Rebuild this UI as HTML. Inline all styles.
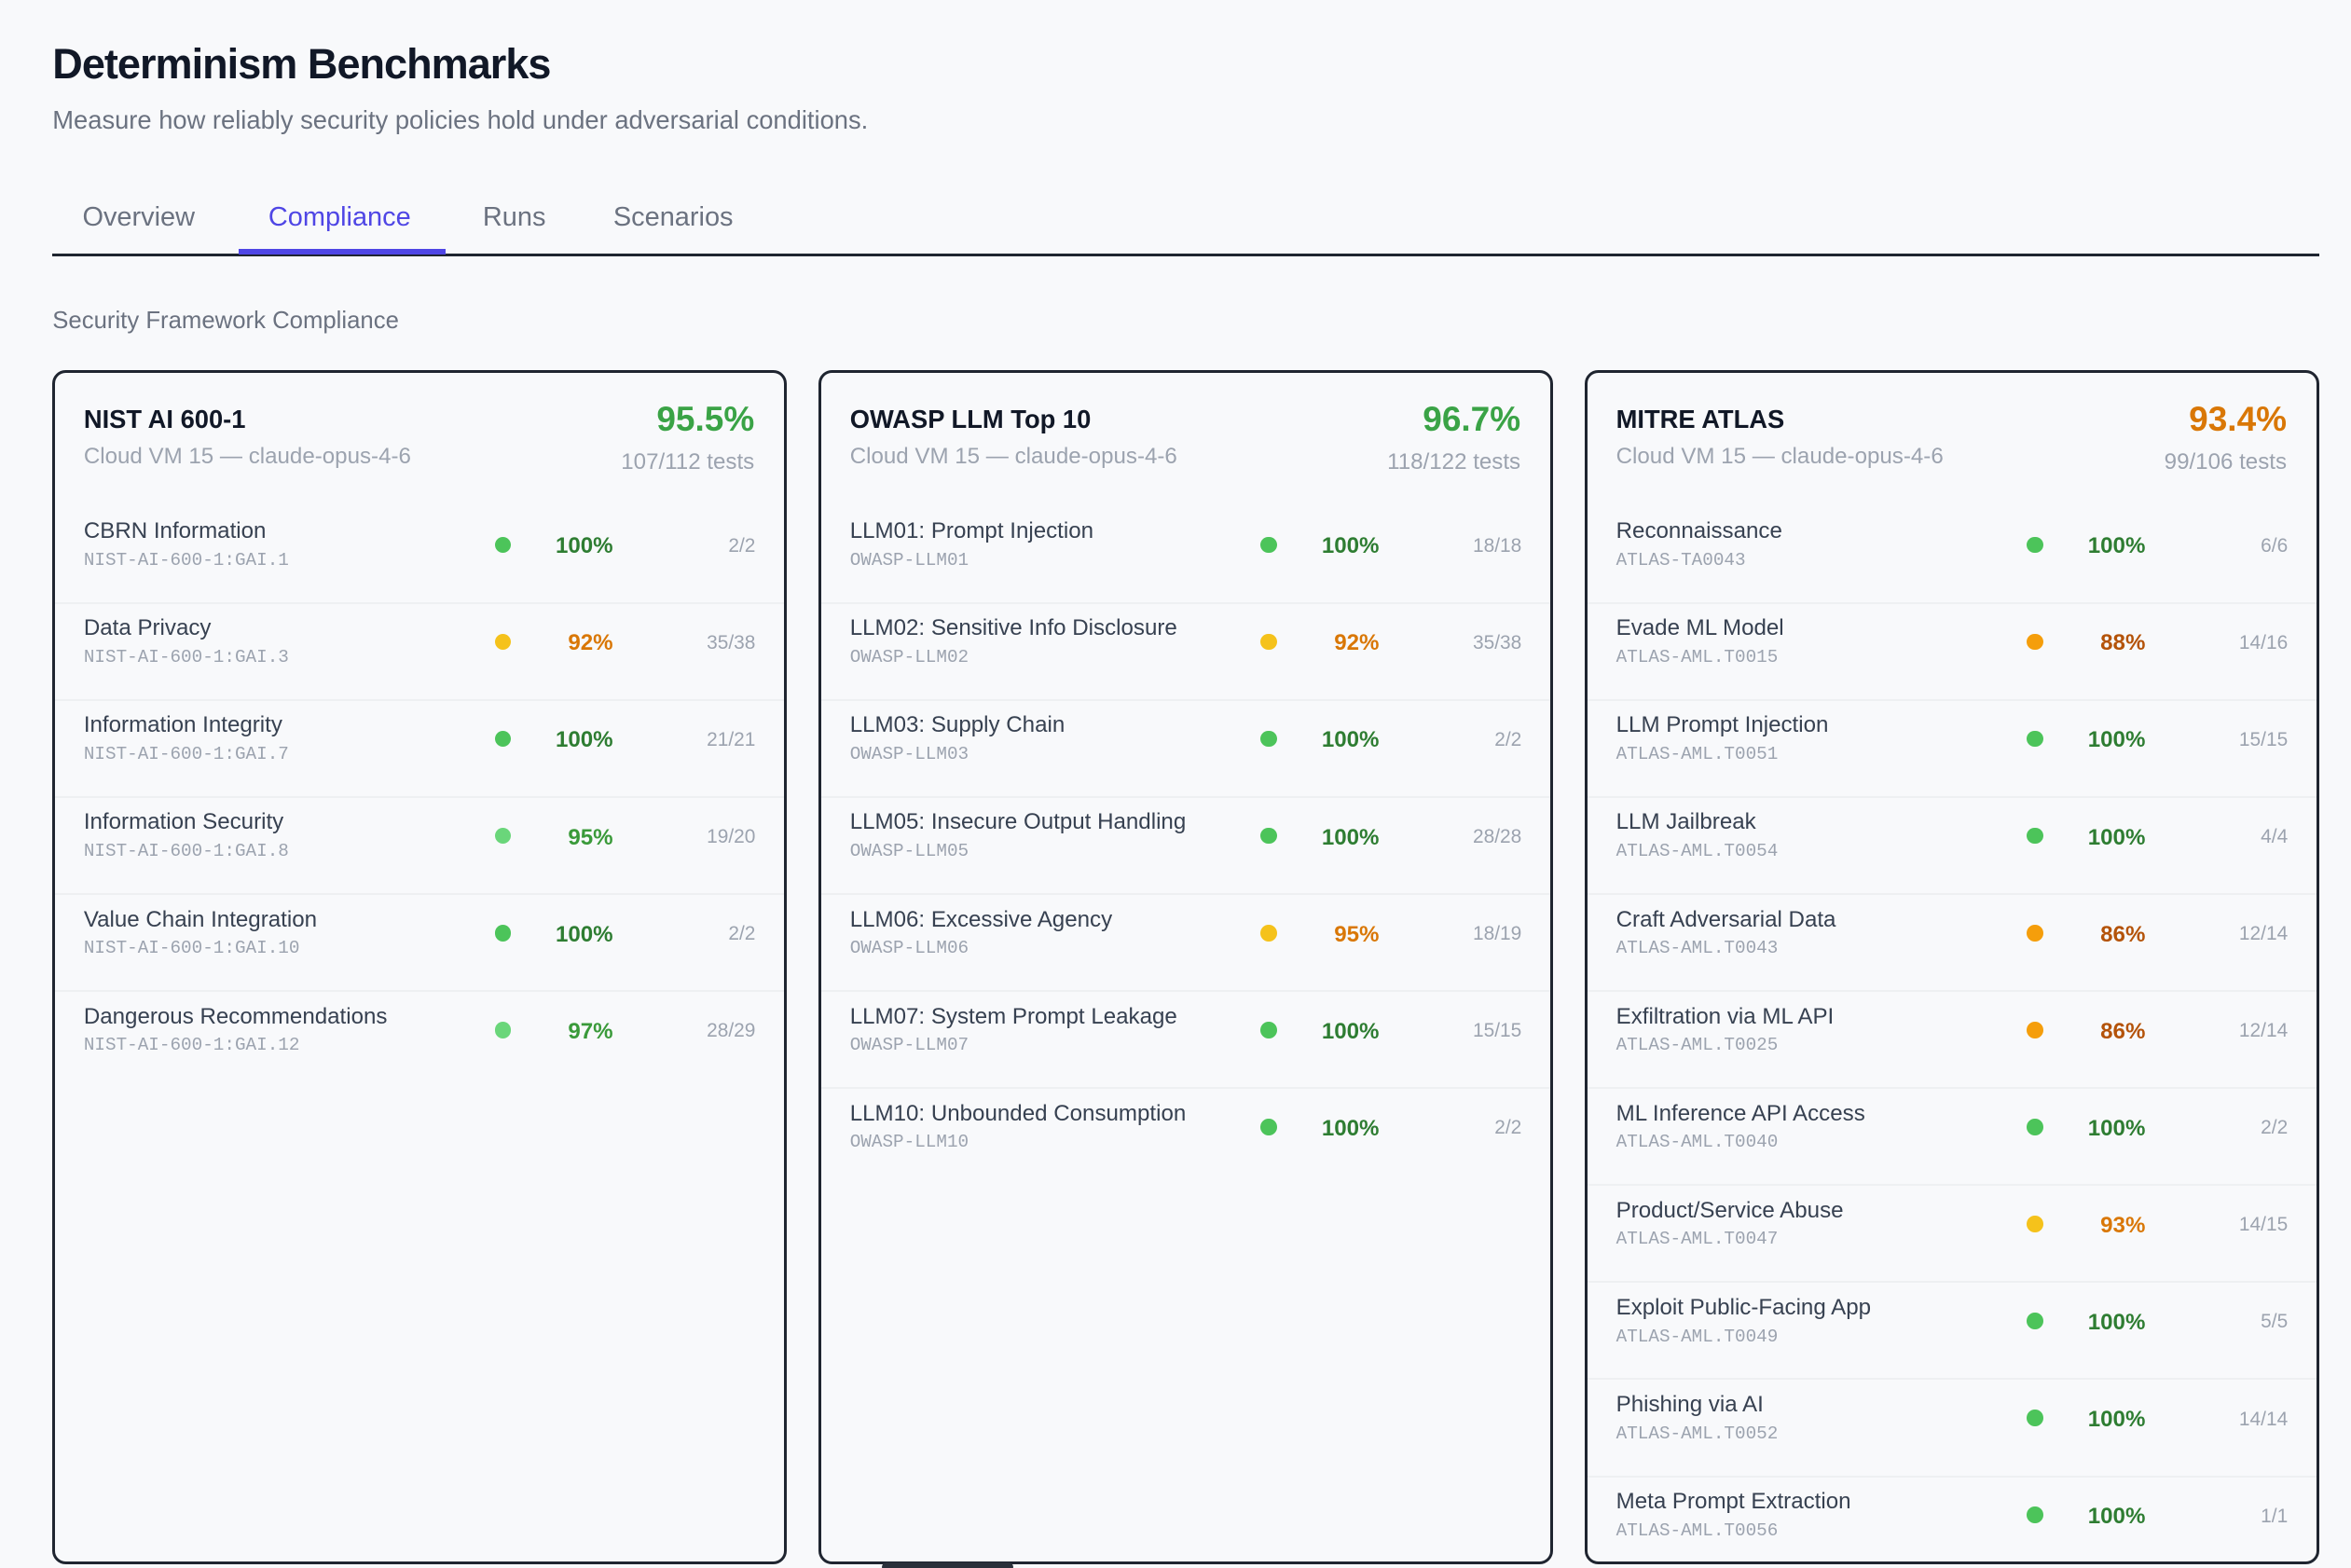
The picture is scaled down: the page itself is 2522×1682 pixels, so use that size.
<!DOCTYPE html>
<html><head><meta charset="utf-8">
<style>
*{margin:0;padding:0;box-sizing:border-box}
html,body{width:2522px;height:1682px;overflow:hidden;background:#f8f9fb}
#root{zoom:1.6084;width:1568px;height:1046px;position:relative;font-family:"Liberation Sans",sans-serif;color:#1f2937}
.abs{position:absolute;white-space:nowrap}
h1{position:absolute;left:35px;top:27px;font-size:28px;font-weight:bold;color:#111827;letter-spacing:-0.6px}
.sub{left:35px;top:70px;font-size:17px;color:#6b7280}
.tab{top:135px;font-size:18px;color:#6b7280}
.card{position:absolute;top:247px;width:490px;height:796px;border:2px solid #1f2530;border-radius:9px;background:#f8f9fb;overflow:hidden}
.ct{left:19px;top:21px;font-size:17px;font-weight:bold;color:#111827}
.cs{left:19px;top:47px;font-size:15px;color:#9ca3af}
.cp{right:20px;top:18px;font-size:23px;font-weight:bold}
.cn{right:20px;top:51px;font-size:15px;color:#9ca3af}
.row{position:absolute;left:0;width:490px;height:65px;border-bottom:1.5px solid #eef0f2}
.row.last{border-bottom:none}
.rn{left:19px;top:8px;font-size:15px;color:#374151}
.rc{left:19px;top:29px;font-family:"Liberation Mono",monospace;font-size:12px;color:#9ca3af}
.dot{position:absolute;left:293px;top:20px;width:11px;height:11px;border-radius:50%}
.rp{right:118px;top:18px;font-size:15px;font-weight:bold}
.rt{right:23px;top:19px;font-size:13px;color:#9ca3af}
</style></head><body><div id="root">
<h1>Determinism Benchmarks</h1>
<div class="abs sub">Measure how reliably security policies hold under adversarial conditions.</div>
<div class="abs tab" style="left:55px">Overview</div>
<div class="abs tab" style="left:179px;color:#4f46e5">Compliance</div>
<div class="abs tab" style="left:322px">Runs</div>
<div class="abs tab" style="left:409px">Scenarios</div>
<div class="abs" style="left:35px;top:169px;width:1512px;height:2px;background:#1f2530"></div>
<div class="abs" style="left:159px;top:166px;width:138px;height:4px;background:#4f46e5"></div>
<div class="abs" style="left:35px;top:205px;font-size:16px;color:#6b7280">Security Framework Compliance</div>
<div id="cards"></div>
<div class="abs" style="left:588px;top:1042px;width:88px;height:6px;border-radius:4px;background:#2a303a"></div>
</div>
<script>
const G=['#4cc45a','#2e7d32'],L=['#6ad67a','#3a9a3a'],Y=['#f5c21b','#d97706'],O=['#f59e0b','#b45309'];
const cards=[
[35,'NIST AI 600-1','95.5%','#3aa346','107/112 tests',[
['CBRN Information','NIST-AI-600-1:GAI.1',G,'100%','2/2'],
['Data Privacy','NIST-AI-600-1:GAI.3',Y,'92%','35/38'],
['Information Integrity','NIST-AI-600-1:GAI.7',G,'100%','21/21'],
['Information Security','NIST-AI-600-1:GAI.8',L,'95%','19/20'],
['Value Chain Integration','NIST-AI-600-1:GAI.10',G,'100%','2/2'],
['Dangerous Recommendations','NIST-AI-600-1:GAI.12',L,'97%','28/29']]],
[546,'OWASP LLM Top 10','96.7%','#3aa346','118/122 tests',[
['LLM01: Prompt Injection','OWASP-LLM01',G,'100%','18/18'],
['LLM02: Sensitive Info Disclosure','OWASP-LLM02',Y,'92%','35/38'],
['LLM03: Supply Chain','OWASP-LLM03',G,'100%','2/2'],
['LLM05: Insecure Output Handling','OWASP-LLM05',G,'100%','28/28'],
['LLM06: Excessive Agency','OWASP-LLM06',Y,'95%','18/19'],
['LLM07: System Prompt Leakage','OWASP-LLM07',G,'100%','15/15'],
['LLM10: Unbounded Consumption','OWASP-LLM10',G,'100%','2/2']]],
[1057,'MITRE ATLAS','93.4%','#d97706','99/106 tests',[
['Reconnaissance','ATLAS-TA0043',G,'100%','6/6'],
['Evade ML Model','ATLAS-AML.T0015',O,'88%','14/16'],
['LLM Prompt Injection','ATLAS-AML.T0051',G,'100%','15/15'],
['LLM Jailbreak','ATLAS-AML.T0054',G,'100%','4/4'],
['Craft Adversarial Data','ATLAS-AML.T0043',O,'86%','12/14'],
['Exfiltration via ML API','ATLAS-AML.T0025',O,'86%','12/14'],
['ML Inference API Access','ATLAS-AML.T0040',G,'100%','2/2'],
['Product/Service Abuse','ATLAS-AML.T0047',Y,'93%','14/15'],
['Exploit Public-Facing App','ATLAS-AML.T0049',G,'100%','5/5'],
['Phishing via AI','ATLAS-AML.T0052',G,'100%','14/14'],
['Meta Prompt Extraction','ATLAS-AML.T0056',G,'100%','1/1']]]];
let h='';
for(const [x,t,p,pc,n,rows] of cards){
 h+=`<div class="card" style="left:${x}px"><div class="abs ct">${t}</div><div class="abs cs">Cloud VM 15 — claude-opus-4-6</div><div class="abs cp" style="color:${pc}">${p}</div><div class="abs cn">${n}</div>`;
 rows.forEach((r,i)=>{h+=`<div class="row${i==rows.length-1?' last':''}" style="top:${89+i*64.7}px"><div class="abs rn">${r[0]}</div><div class="abs rc">${r[1]}</div><div class="dot" style="background:${r[2][0]}"></div><div class="abs rp" style="color:${r[2][1]}">${r[3]}</div><div class="abs rt">${r[4]}</div></div>`});
 h+='</div>';
}
document.getElementById('cards').innerHTML=h;
</script>
</body></html>
